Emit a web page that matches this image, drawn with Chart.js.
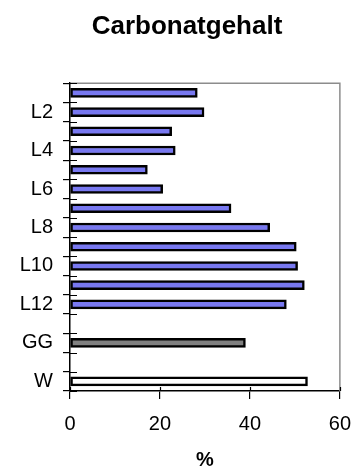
<!DOCTYPE html>
<html>
<head>
<meta charset="utf-8">
<script src="https://cdn.jsdelivr.net/npm/chart.js@4"></script>
<style>
  html, body { margin: 0; padding: 0; background: #fff; }
  #wrap { width: 364px; height: 468px; }
</style>
</head>
<body>
<div id="wrap"><canvas id="chart" width="364" height="468"></canvas></div>
<script>
// --- data ---
const categories = ['L1', 'L2', 'L3', 'L4', 'L5', 'L6', 'L7', 'L8', 'L9', 'L10', 'L11', 'L12', '', 'GG', '', 'W'];
const carbonat = [28.3, 29.8, 22.6, 23.4, 17.2, 20.6, 35.8, 44.4, 50.3, 50.6, 52.1, 48.1, null, 39.0, null, 52.8];
const xTicks = [0, 20, 40, 60];

const FONT = 'Arial, "Liberation Sans", sans-serif';

function fillFor(name) {
    if (name === 'GG') return '#808080';
    if (name === 'W') return '#ffffff';
    return '#7878f0';
}

// ticks that cross the axis lines (Excel style) + grey plot frame
const axisDecor = {
    id: 'axisDecor',
    afterLayout(chart) {
        // title sits a bit right of the canvas centre in the original
        if (chart.titleBlock) chart.titleBlock.left = 30;
    },
    afterDraw(chart) {
        const ctx = chart.ctx;
        const area = chart.chartArea;
        const y = chart.scales.y;
        const x = chart.scales.x;
        ctx.save();

        // grey frame top + right
        ctx.strokeStyle = '#8c8c8c';
        ctx.lineWidth = 1.5;
        ctx.beginPath();
        ctx.moveTo(area.left, area.top);
        ctx.lineTo(area.right, area.top);
        ctx.lineTo(area.right, area.bottom);
        ctx.stroke();

        // inner part of the category ticks
        ctx.strokeStyle = '#000';
        ctx.lineWidth = 1.2;
        const step = (y.getPixelForValue(1) - y.getPixelForValue(0));
        ctx.beginPath();
        for (let i = 0; i <= categories.length; i++) {
            const py = Math.round(y.getPixelForValue(i) - step / 2) + 0.5;
            ctx.moveTo(area.left, py);
            ctx.lineTo(area.left + 7, py);
        }
        // inner part of the value ticks
        xTicks.forEach(v => {
            const px = Math.round(x.getPixelForValue(v)) + 0.5;
            ctx.moveTo(px, area.bottom);
            ctx.lineTo(px, area.bottom - 4);
        });
        ctx.stroke();
        ctx.restore();
    }
};

new Chart(document.getElementById('chart'), {
    type: 'bar',
    data: {
        labels: categories,
        datasets: [{
            data: carbonat,
            backgroundColor: categories.map(fillFor),
            borderColor: '#000',
            borderWidth: 2.5,
            borderSkipped: false,
            barThickness: 9
        }]
    },
    options: {
        indexAxis: 'y',
        responsive: false,
        animation: false,
        layout: { padding: { left: 0, right: 20, top: 0, bottom: 0 } },
        plugins: {
            legend: { display: false },
            tooltip: { enabled: false },
            title: {
                display: true,
                text: 'Carbonatgehalt',
                color: '#000',
                font: { family: FONT, size: 26, weight: 'bold' },
                padding: { top: 11, bottom: 41 }
            }
        },
        scales: {
            x: {
                min: 0,
                max: 60,
                afterBuildTicks: (s) => { s.ticks = xTicks.map(v => ({ value: v })); },
                border: { color: '#000', width: 1.5 },
                grid: { drawOnChartArea: false, color: '#000', tickLength: 8, lineWidth: 1.2 },
                ticks: { color: '#000', padding: 13, font: { family: FONT, size: 20 } },
                title: {
                    display: true,
                    text: '%',
                    color: '#000',
                    font: { family: FONT, size: 20, weight: 'bold' },
                    padding: { top: 0, bottom: -4 }
                },
                afterFit: (s) => { s.height = 77; }
            },
            y: {
                border: { color: '#000', width: 1.5 },
                grid: { drawOnChartArea: false, color: '#000', tickLength: 7, lineWidth: 1.2, offset: true },
                ticks: {
                    color: '#000',
                    padding: 10,
                    autoSkip: false,
                    font: { family: FONT, size: 20 },
                    callback: (v, i) => (i % 2 === 1 ? categories[i] : '')
                },
                afterFit: (s) => { s.width = 70; }
            }
        }
    },
    plugins: [axisDecor]
});
</script>
</body>
</html>
